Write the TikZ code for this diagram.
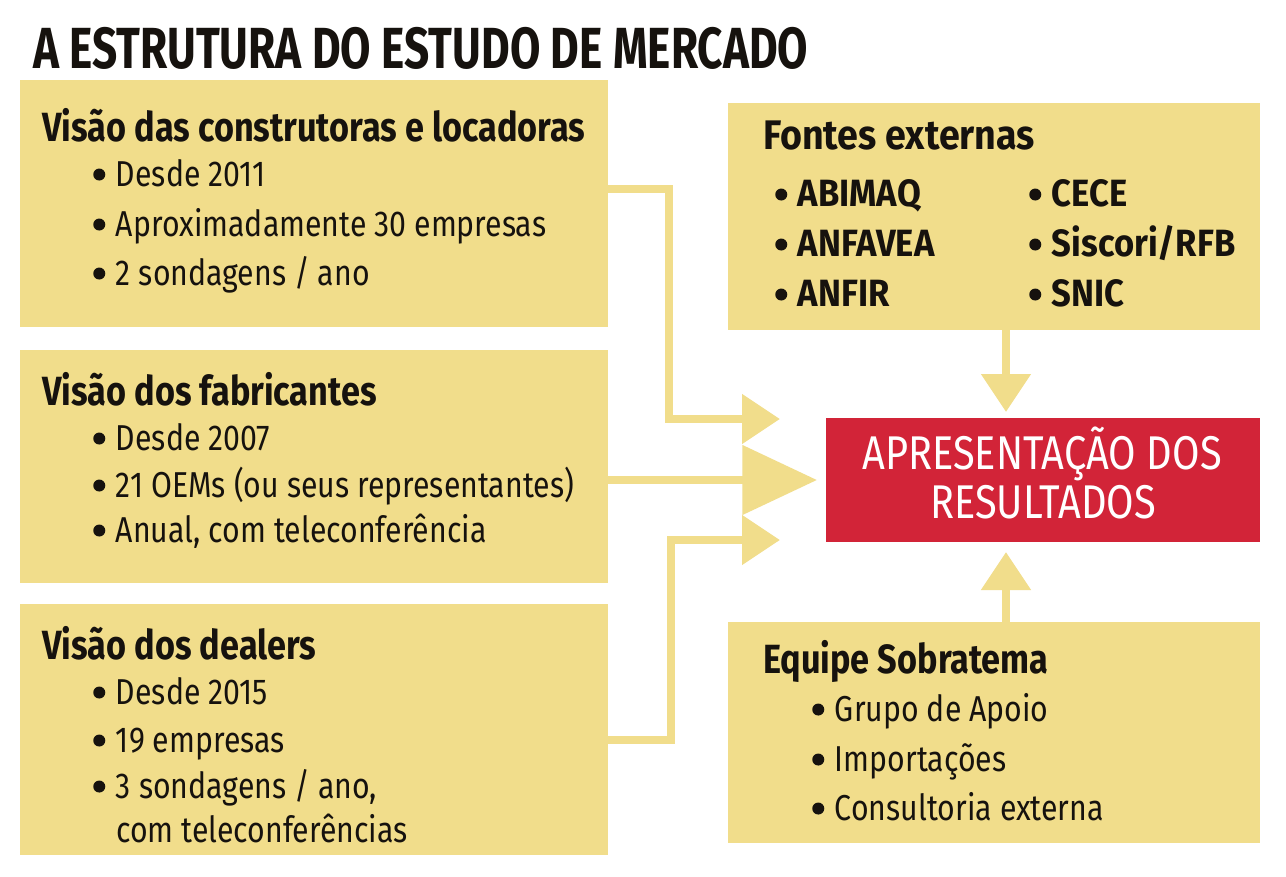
\documentclass[tikz,border=0pt]{standalone}
\usepackage{fontspec}
\setmainfont{Fira Sans}[FakeStretch=0.84]
\newfontfamily\titlefont{Fira Sans}[FakeStretch=0.76]
\newfontfamily\widefont{Fira Sans}[FakeStretch=0.91]
\usetikzlibrary{arrows.meta}
\definecolor{ylw}{RGB}{241,221,139}
\definecolor{rd}{RGB}{210,36,56}
\definecolor{ink}{RGB}{22,18,14}
\newcommand\bul{\raisebox{4.1pt}{\tikz\fill[ink] (0,0) circle (4.5pt);}\hspace{8pt}}
\tikzset{
  box/.style={fill=ylw, draw=none, anchor=north west, inner sep=0pt, outer sep=0pt},
  redbox/.style={fill=rd, draw=none, anchor=north west, inner sep=0pt, outer sep=0pt},
  hdr/.style={anchor=base west, inner sep=0pt, text=ink, font=\fontsize{30.6}{36}\selectfont\bfseries},
  itm/.style={anchor=base west, inner sep=0pt, text=ink, font=\fontsize{27}{33}\selectfont},
  itmb/.style={anchor=base west, inner sep=0pt, text=ink, font=\widefont\fontsize{28.5}{33}\selectfont\bfseries},
  redtxt/.style={anchor=base, inner sep=0pt, text=white, font=\fontsize{35.5}{40}\selectfont},
  conn/.style={draw=ylw, line width=6pt},
  tipS/.style={-{Triangle[length=28.5pt,width=36pt]}},
  tipL/.style={-{Triangle[length=56pt,width=51pt]}},
}
\begin{document}
\begin{tikzpicture}[x=0.75pt,y=-0.75pt]
\useasboundingbox (0,0) rectangle (1286,876);
\fill[white] (0,0) rectangle (1286,876);

% title
\node[anchor=base west, inner sep=0pt, text=ink, font=\titlefont\fontsize{43.5}{50}\selectfont\bfseries] (title) at (33,68) {A ESTRUTURA DO ESTUDO DE MERCADO};

% boxes
\node[box, minimum width=441pt, minimum height=185.25pt] (b1) at (20,80) {};
\node[box, minimum width=441pt, minimum height=174.75pt] (b2) at (20,350) {};
\node[box, minimum width=441pt, minimum height=188.25pt] (b3) at (20,604) {};
\node[box, minimum width=399pt, minimum height=170.25pt] (f) at (728,103) {};
\node[redbox, minimum width=325.5pt, minimum height=93pt] (r) at (826,418) {};
\node[box, minimum width=399pt, minimum height=165.75pt] (e) at (728,622) {};

% box 1
\node[hdr] (h1) at (42,141) {Visão das construtoras e locadoras};
\node[itm] (i11) at (93,186) {\bul Desde 2011};
\node[itm] (i12) at (93,236) {\bul Aproximadamente 30 empresas};
\node[itm] (i13) at (93,285) {\bul 2 sondagens / ano};

% box 2
\node[hdr] (h2) at (42,405) {Visão dos fabricantes};
\node[itm] (i21) at (93,450) {\bul Desde 2007};
\node[itm] (i22) at (93,497) {\bul 21 OEMs (ou seus representantes)};
\node[itm] (i23) at (93,542) {\bul Anual, com teleconferência};

% box 3
\node[hdr] (h3) at (42,659) {Visão dos dealers};
\node[itm] (i31) at (93,704) {\bul Desde 2015};
\node[itm] (i32) at (93,752) {\bul 19 empresas};
\node[itm] (i33) at (93,798) {\bul 3 sondagens / ano,};
\node[itm] (i34) at (116,842) {com teleconferências};

% fontes externas
\node[hdr, font=\widefont\fontsize{31}{36}\selectfont\bfseries] (hf) at (763,149) {Fontes externas};
\node[itmb] (f1) at (775,206) {\bul ABIMAQ};
\node[itmb] (f2) at (775,256) {\bul ANFAVEA};
\node[itmb] (f3) at (775,306) {\bul ANFIR};
\node[itmb] (f4) at (1029,206) {\bul CECE};
\node[itmb] (f5) at (1029,256) {\bul Siscori/RFB};
\node[itmb] (f6) at (1029,306) {\bul SNIC};

% red box text
\node[redtxt] (rt1) at (1042,469) {APRESENTAÇÃO DOS};
\node[redtxt] (rt2) at (1043,518) {RESULTADOS};

% equipe
\node[hdr] (he) at (763,673) {Equipe Sobratema};
\node[itm] (e1) at (812,721) {\bul Grupo de Apoio};
\node[itm] (e2) at (812,771) {\bul Importações};
\node[itm] (e3) at (812,820) {\bul Consultoria externa};

% connectors
\coordinate (t1) at ([xshift=-34.5pt, yshift=45.75pt]r.west);
\coordinate (t2) at ([xshift=-6.75pt]r.west);
\coordinate (t3) at ([xshift=-34.5pt, yshift=-45pt]r.west);
\draw[conn, tipS] ([yshift=10.9pt]b1.east) -| ([xshift=-83.25pt]t1) -- (t1);
\draw[conn, tipL] (b2.east |- t2) -- (t2);
\draw[conn, tipS] ([yshift=-7.9pt]b3.east) -| ([xshift=-81.75pt]t3) -- (t3);
\draw[conn, tipS, shorten >=4.5pt] ([xshift=9pt]f.south) -- ([xshift=9pt]f.south |- r.north);
\draw[conn, tipS, shorten >=7.5pt] ([xshift=9pt]e.north) -- ([xshift=9pt]e.north |- r.south);
\end{tikzpicture}
\end{document}
